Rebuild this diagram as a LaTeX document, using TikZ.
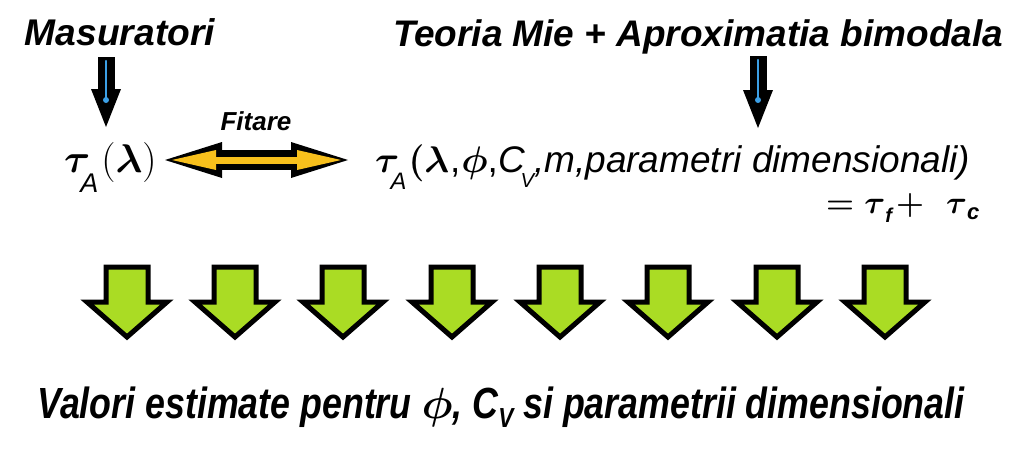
\RequirePackage{fix-cm}
\documentclass[tikz,border=0pt]{standalone}
\usepackage{amsmath}
\usepackage{fontspec}
\setmainfont{Liberation Sans}
\newfontfamily\narrowsf[FakeStretch=0.82]{Liberation Sans}
\usetikzlibrary{arrows.meta}
\definecolor{limegr}{RGB}{170,220,36}
\definecolor{fityel}{RGB}{248,192,28}
\definecolor{arrblue}{RGB}{60,160,230}
\newcommand\lowtxt[3]{\raisebox{-#1}{\fontsize{#2}{#2}\selectfont\itshape #3}}
\tikzset{
  titletxt/.style={font=\fontsize{36}{40}\selectfont\bfseries\itshape, inner sep=0pt, anchor=base},
  formula/.style={font=\fontsize{42}{46}\selectfont, inner sep=0pt, anchor=base west},
  bluearr/.style={black, line width=17pt, -{Triangle[width=30pt 0 0,length=38pt 0 0,line width=0pt 0 0]}},
  blueline/.style={arrblue, line width=2.5pt, line cap=round},
  fitout/.style={black, line width=20pt, {Triangle[width=36pt 0 0,length=57pt 0 0,line width=0pt 0 0]}-{Triangle[width=36pt 0 0,length=57pt 0 0,line width=0pt 0 0]}},
  fitin/.style={fityel, line width=7pt, shorten <=7pt, shorten >=7pt, {Triangle[width=20pt 0 0,length=44pt 0 0,line width=0pt 0 0]}-{Triangle[width=20pt 0 0,length=44pt 0 0,line width=0pt 0 0]}},
  greenarr/.style={draw=black, fill=limegr, line width=5pt, line join=miter},
}
\begin{document}
\begin{tikzpicture}[x=1pt,y=-1pt]
\fill[white] (0,0) rectangle (1023,466);
\useasboundingbox (0,0) rectangle (1023,466);

% titles
\node[titletxt] (masur) at (120,45) {\resizebox{190pt}{!}{Masuratori}};
\node[titletxt] (teoria) at (698,46) {\resizebox{610pt}{!}{Teoria Mie + Aproximatia bimodala}};

% formulas
\node[formula, font=\fontsize{40}{44}\selectfont] (tau1) at (64,172) {\(\boldsymbol{\tau}\)\kern-10pt\lowtxt{20pt}{27}{A}\kern3pt\((\boldsymbol{\lambda})\)};
\node[formula] (tau2) at (375,172) {\resizebox{595pt}{!}{\(\boldsymbol{\tau}\)\kern-10pt\lowtxt{20pt}{27}{A}\kern2pt\(\boldsymbol{(\lambda}\)\kern1pt,\kern1pt\(\boldsymbol{\phi}\),\textit{C}\kern-5pt\lowtxt{18pt}{23}{V}\textit{,m,parametri dimensionali)}}};
\node[font=\fontsize{32}{36}\selectfont\bfseries\itshape, inner sep=0pt, anchor=base west] (eqn) at (826,213)
  {\(\boldsymbol{=\tau}\)\raisebox{-9pt}{\fontsize{20}{20}\selectfont\bfseries\itshape f}\kern4pt\(\boldsymbol{+}\)\kern22pt\(\boldsymbol{\tau}\)\raisebox{-6pt}{\fontsize{22}{22}\selectfont\bfseries\itshape c}};
\node[font=\fontsize{26}{28}\selectfont\bfseries\itshape, inner sep=0pt, anchor=base] (fit) at (256,130) {Fitare};

% blue arrows
\coordinate (m1) at (106,57);
\coordinate (m2) at (106,127);
\coordinate (t1) at (758,56);
\coordinate (t2) at (758,128);
\draw[bluearr] (m1) -- (m2);
\draw[blueline] (106,61) -- (106,100);
\fill[arrblue] (106,100) circle (3);
\draw[bluearr] (t1) -- (t2);
\draw[blueline] (758,60) -- (758,100);
\fill[arrblue] (758,100) circle (3);

% fit double arrow
\coordinate (fl) at (165,160);
\coordinate (fr) at (348,160);
\draw[fitout] (fl) -- (fr);
\draw[fitin] (fl) -- (fr);

% green arrows
\foreach \cx in {127,235,343,452,560,668,777,885}{
  \draw[greenarr] (\cx-21,267) -- (\cx+21,267) -- (\cx+21,302) -- (\cx+40,302)
     -- (\cx,337) -- (\cx-40,302) -- (\cx-21,302) -- cycle;
}

% result
\node[font=\fontsize{38}{42}\selectfont\narrowsf\bfseries\itshape, inner sep=0pt, anchor=base] (result) at (501,418)
  {\resizebox{927pt}{!}{Valori estimate pentru \(\boldsymbol{\phi}\), C\raisebox{-8pt}{\fontsize{24}{24}\selectfont V} si parametrii dimensionali}};
\end{tikzpicture}
\end{document}
